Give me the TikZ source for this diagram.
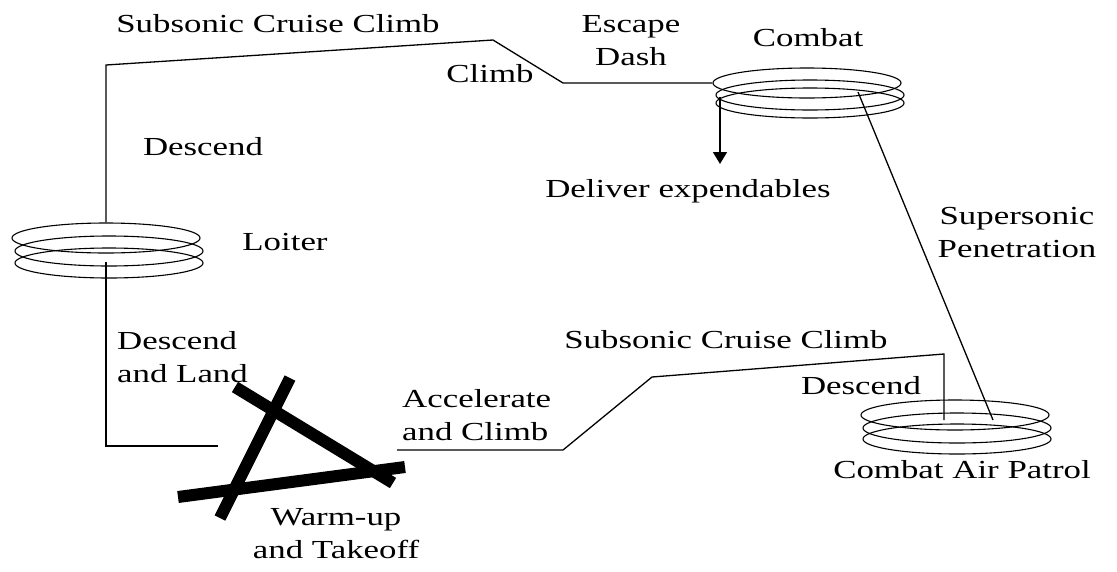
\documentclass[tikz,border=0pt]{standalone}
\usepackage{fontspec}
\setmainfont{Liberation Serif}[FakeStretch=1.34]
\usetikzlibrary{arrows.meta,shapes.geometric}
\begin{document}
\begin{tikzpicture}[x=1pt,y=-1pt,
  lbl/.style={inner sep=0pt, font=\fontsize{26}{33}\selectfont},
  flight/.style={line width=1.3pt, line join=miter},
  coil/.style={draw, ellipse, line width=1.1pt, inner sep=0pt, minimum width=188pt, minimum height=30pt},
  runway/.style={line width=12pt}]
\useasboundingbox (0,0) rectangle (1117,571);
% loops
\node[coil] (l1) at (106,238) {};
\node[coil] (l2) at (109,251) {};
\node[coil] (l3) at (109,263) {};
\node[coil] (c1) at (807,83) {};
\node[coil] (c2) at (810,95) {};
\node[coil] (c3) at (810,103) {};
\node[coil] (p1) at (955,415) {};
\node[coil] (p2) at (957,428) {};
\node[coil] (p3) at (957,439) {};
% path points
\coordinate (tl) at (106,65);
\coordinate (peak) at (493,40);
\coordinate (dip) at (563,83);
\coordinate (drop) at (720,97);
\coordinate (dropend) at (720,164);
\coordinate (sup1) at (858,92);
\coordinate (sup2) at (993,420);
\coordinate (lout) at (106,262);
\coordinate (lcorner) at (106,446);
\coordinate (lend) at (218,446);
\coordinate (t0) at (397,450);
\coordinate (t1) at (563,450);
\coordinate (t2) at (652,377);
\coordinate (t3) at (944,354);
\coordinate (t4) at (944,420);
% runway
\coordinate (ra1) at (235,387); \coordinate (ra2) at (393,483);
\coordinate (rb1) at (290,378); \coordinate (rb2) at (220,518);
\coordinate (rc1) at (178,497); \coordinate (rc2) at (405,467);
\draw[runway] (ra1) -- (ra2);
\draw[runway] (rb1) -- (rb2);
\draw[runway] (rc1) -- (rc2);
% connectors
\draw[flight] (l1.north) -- (tl) -- (peak) -- (dip) -- (c1.west);
\draw[flight,-{Triangle[length=12pt,width=14pt]}] (drop) -- (dropend);
\draw[flight] (sup1) -- (sup2);
\draw[flight] (lout) -- (lcorner) -- (lend);
\draw[flight] (t0) -- (t1) -- (t2) -- (t3) -- (t4);
% labels
\node[lbl, anchor=base] (tsub) at (278,32) {Subsonic Cruise Climb};
\node[lbl, anchor=north, align=center] (esc) at (631,15.5) {Escape\\Dash};
\node[lbl, anchor=base] (clm) at (490,82) {Climb};
\node[lbl, anchor=base] (cmb) at (808,46) {Combat};
\node[lbl, anchor=base] (dsc1) at (203,155) {Descend};
\node[lbl, anchor=base] (loi) at (285,250) {Loiter};
\node[lbl, anchor=base] (dlv) at (688,197) {Deliver expendables};
\node[lbl, anchor=north, align=center] (sup) at (1017,207) {Supersonic\\Penetration};
\node[lbl, anchor=north west, align=left] (dland) at (117,331.5) {Descend\\and Land};
\node[lbl, anchor=north west, align=left] (acc) at (402,389.5) {Accelerate\\and Climb};
\node[lbl, anchor=base] (lsub) at (726,348) {Subsonic Cruise Climb};
\node[lbl, anchor=base] (dsc2) at (861,394) {Descend};
\node[lbl, anchor=base] (cap) at (962,478) {Combat Air Patrol};
\node[lbl, anchor=north, align=center] (wup) at (336,508) {Warm-up\\and Takeoff};
\end{tikzpicture}
\end{document}
